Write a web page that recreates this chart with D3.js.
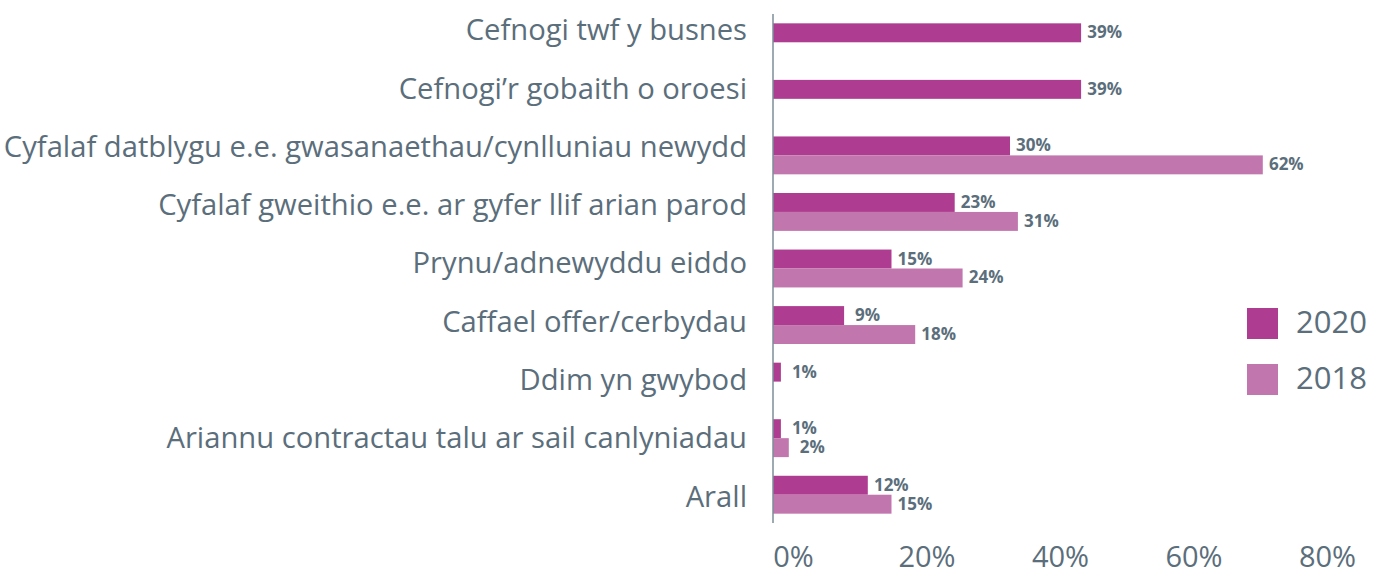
<!DOCTYPE html>
<html>
<head>
<meta charset="utf-8">
<script src="https://cdn.jsdelivr.net/npm/d3@7"></script>
<style>
  html, body { margin: 0; padding: 0; background: #ffffff; }
  svg { display: block; }
  text { font-family: "Open Sans", "Noto Sans", sans-serif; }
</style>
</head>
<body>
<svg id="chart" width="1378" height="576"></svg>
<script>
// Purpose of finance sought, by survey year
const categories = [
  "Cefnogi twf y busnes",
  "Cefnogi’r gobaith o oroesi",
  "Cyfalaf datblygu e.e. gwasanaethau/cynlluniau newydd",
  "Cyfalaf gweithio e.e. ar gyfer llif arian parod",
  "Prynu/adnewyddu eiddo",
  "Caffael offer/cerbydau",
  "Ddim yn gwybod",
  "Ariannu contractau talu ar sail canlyniadau",
  "Arall"
];
const seriesNames = ["2020", "2018"];
const values2020 = [39, 39, 30, 23, 15, 9, 1, 1, 12];
const values2018 = [null, null, 62, 31, 24, 18, null, 2, 15];
const xTicks = [0, 20, 40, 60, 80];

const colors = { "2020": "#AE3C90", "2018": "#C276AE" };
const textColor = "#5B6E7B";
const axisColor = "#7D8E99";

const svg = d3.select("#chart");

// Bar length scale
const x = d3.scaleLinear().domain([0, 80]).range([773, 773 + 80 * 7.9]);
// Tick label placement along the bottom
const xTickScale = d3.scaleLinear().domain([0, 80]).range([793, 1327]);

// Category bands for the bar groups
const y = d3.scaleBand().domain(categories).range([14, 523])
  .paddingInner(0.33).paddingOuter(0.165);
const ySub = d3.scaleBand().domain(seriesNames).range([0, y.bandwidth()]);
// Category label rows
const yLabel = d3.scaleBand().domain(categories).range([0.55, 0.55 + 9 * 58.3]);

const rows = categories.map((c, i) => ({
  category: c,
  values: [
    { series: "2020", value: values2020[i] },
    { series: "2018", value: values2018[i] }
  ].filter(d => d.value !== null)
}));

// Category labels
svg.append("g")
  .selectAll("text")
  .data(categories)
  .join("text")
  .attr("x", 747)
  .attr("y", d => yLabel(d) + yLabel.bandwidth() / 2)
  .attr("dy", "0.36em")
  .attr("text-anchor", "end")
  .attr("font-size", 29.2)
  .attr("fill", textColor)
  .text(d => d);

// Bars
const groups = svg.append("g")
  .selectAll("g")
  .data(rows)
  .join("g")
  .attr("transform", d => `translate(0,${y(d.category)})`);

groups.selectAll("rect")
  .data(d => d.values)
  .join("rect")
  .attr("x", x(0))
  .attr("y", d => ySub(d.series))
  .attr("width", d => x(d.value) - x(0))
  .attr("height", ySub.bandwidth())
  .attr("fill", d => colors[d.series]);

// Value labels
groups.selectAll("text")
  .data(d => d.values)
  .join("text")
  .attr("x", d => x(d.value) + 23.5)
  .attr("y", d => ySub(d.series) + ySub.bandwidth() / 2 + 5.5)
  .attr("text-anchor", "middle")
  .attr("font-size", 17)
  .attr("font-weight", 700)
  .attr("fill", textColor)
  .text(d => d.value + "%");

// Vertical category axis line
svg.append("line")
  .attr("x1", x(0)).attr("x2", x(0))
  .attr("y1", 14).attr("y2", 523)
  .attr("stroke", axisColor)
  .attr("stroke-width", 1.5);

// Bottom tick labels
const xAxis = svg.append("g")
  .attr("transform", "translate(0,567)")
  .call(d3.axisBottom(xTickScale).tickValues(xTicks).tickSize(0).tickFormat(d => d + "%"));
xAxis.select(".domain").remove();
xAxis.selectAll("text")
  .attr("y", 0).attr("dy", 0)
  .attr("font-family", "Open Sans, Noto Sans, sans-serif")
  .attr("font-size", 29)
  .attr("fill", textColor);

// Legend
const legend = svg.append("g")
  .selectAll("g")
  .data(seriesNames)
  .join("g")
  .attr("transform", (d, i) => `translate(1247,${308 + i * 56})`);
legend.append("rect")
  .attr("width", 31).attr("height", 31)
  .attr("fill", d => colors[d]);
legend.append("text")
  .attr("x", 49).attr("y", 25)
  .attr("font-size", 31)
  .attr("fill", textColor)
  .text(d => d);
</script>
</body>
</html>
